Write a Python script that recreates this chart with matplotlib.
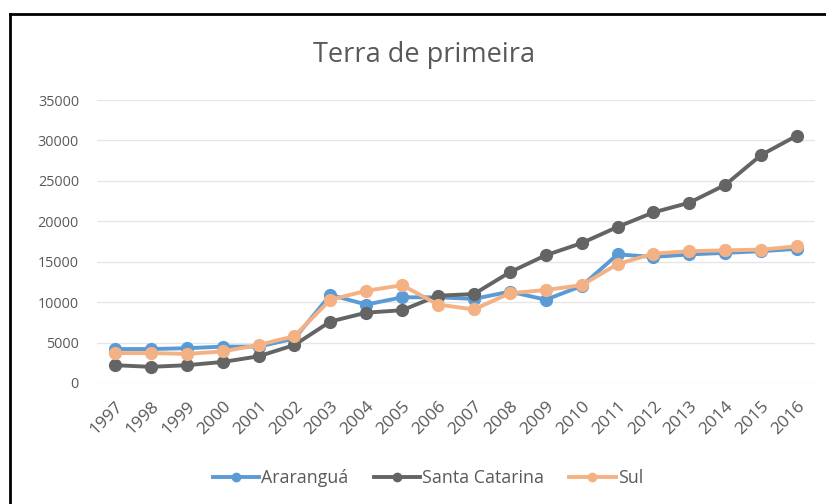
import numpy as np
import matplotlib
matplotlib.use("Agg")
import matplotlib.pyplot as plt
from matplotlib.lines import Line2D

plt.rcParams['font.family'] = ['Open Sans', 'DejaVu Sans']

years = [str(y) for y in range(1997, 2017)]
ararangua = [4200, 4200, 4300, 4500, 4500, 5500, 10900, 9700, 10600, 10600,
             10400, 11300, 10300, 12000, 15900, 15600, 15900, 16100, 16300, 16600]
santa_catarina = [2200, 2000, 2200, 2600, 3300, 4700, 7600, 8700, 9000, 10800,
                  11000, 13700, 15800, 17300, 19300, 21100, 22300, 24500, 28200, 30600]
sul = [3700, 3700, 3600, 3900, 4700, 5800, 10300, 11400, 12100, 9700,
       9100, 11100, 11500, 12100, 14700, 16000, 16300, 16400, 16500, 16900]

series = [("Araranguá", ararangua, "#5B9BD5"),
          ("Santa Catarina", santa_catarina, "#646464"),
          ("Sul", sul, "#F4B183")]

fig = plt.figure(figsize=(8.26, 5.04), dpi=100)
ax = fig.add_axes([97/826, 1 - 383/504, (815-97)/826, (383-100)/504])

x = np.arange(len(years))
for name, vals, col in series:
    ax.plot(x, vals, color=col, lw=2.8, marker='o', ms=8.5, label=name,
            solid_capstyle='round')

ax.set_xlim(-0.5, len(years) - 0.5)
ax.set_ylim(0, 35000)
ax.set_yticks(range(0, 35001, 5000))
ax.set_xticks(x)
ax.set_xticklabels(years, rotation=45, ha='right', va='top', rotation_mode='anchor',
                   fontsize=12.5)
ax.yaxis.grid(True, color='#e6e6e6', lw=1)
ax.set_axisbelow(True)
for s in ax.spines.values():
    s.set_visible(False)
ax.tick_params(axis='both', length=0, colors='#595959')
ax.tick_params(axis='y', pad=13, labelsize=10.4)
ax.tick_params(axis='x', pad=11)

fig.text(424/826, 1 - 55/504, "Terra de primeira", ha='center', va='center',
         fontsize=19.5, color='#595959')

handles = [Line2D([0], [0], color=c, lw=2.8, marker='o', ms=6) for _, _, c in series]
fig.legend(handles, [n for n, _, _ in series], loc='center',
           bbox_to_anchor=(428/826, 1 - 478/504), ncol=3, frameon=False,
           fontsize=12.8, labelcolor='#595959', handlelength=2.6,
           handletextpad=0.15, columnspacing=1.4)

# black frame lines of the screenshot (top and left)
fig.add_artist(Line2D([10/826, 1], [1 - 14/504, 1 - 14/504], color='black', lw=2,
                      transform=fig.transFigure))
fig.add_artist(Line2D([10/826, 10/826], [0, 1 - 14/504], color='black', lw=2,
                      transform=fig.transFigure))

fig.savefig("out.png", dpi=100)
